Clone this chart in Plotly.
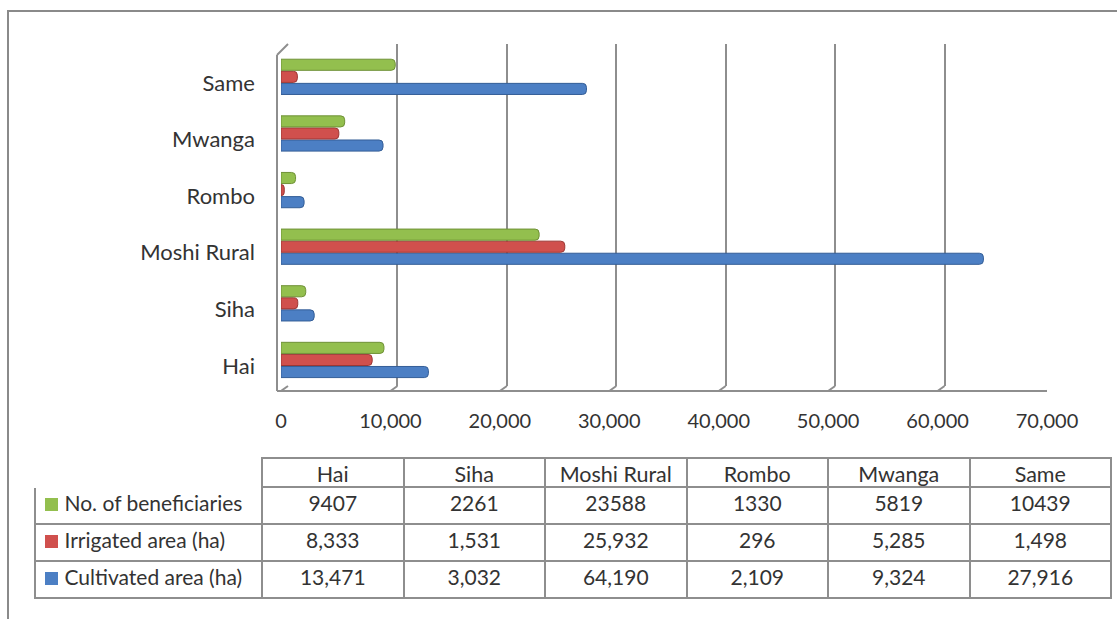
import plotly.graph_objects as go

# ---------------- data ----------------
districts = ["Hai", "Siha", "Moshi Rural", "Rombo", "Mwanga", "Same"]
beneficiaries = [9407, 2261, 23588, 1330, 5819, 10439]
irrigated = [8333, 1531, 25932, 296, 5285, 1498]
cultivated = [13471, 3032, 64190, 2109, 9324, 27916]
series_names = ["No. of beneficiaries", "Irrigated area (ha)", "Cultivated area (ha)"]
x_ticks = [0, 10000, 20000, 30000, 40000, 50000, 60000, 70000]

# ---------------- style ----------------
W, H = 1117, 619
FONT = "Lato"
TXT = "#333333"
GRID = "#8e8e8e"
COL = {"ben": "#93BF4E", "irr": "#D0504D", "cul": "#4C7FC4"}
EDGE = {"ben": "#6F9136", "irr": "#9C3734", "cul": "#345E97"}


def fx(p):
    return p / W


def fy(p):
    return 1 - p / H


FRONT_X = (281, 1047)   # pixel span of 0..70000 at front of floor
BACK_X = (288, 1054)    # pixel span at back wall
PLOT_Y = (44, 386)      # pixel span of back wall (top, bottom)
FLOOR_Y = 391
TABLE_X = (35, 1111)
TABLE_TOP = 458
HEADER_H = 29
ROW_H = 37
FIRST_W = 227

fig = go.Figure()

# back wall gridlines subplot (drawn first, below bars)
fig.add_trace(go.Scatter(x=[0], y=[0], mode="markers", marker=dict(opacity=0),
                         hoverinfo="skip", showlegend=False, xaxis="x", yaxis="y"))

# bars (first trace is drawn at bottom of each group)
fig.add_trace(go.Bar(y=districts, x=cultivated, name=series_names[2], orientation="h",
                     marker=dict(color=COL["cul"], line=dict(color=EDGE["cul"], width=1), cornerradius=4),
                     xaxis="x2", yaxis="y2"))
fig.add_trace(go.Bar(y=districts, x=irrigated, name=series_names[1], orientation="h",
                     marker=dict(color=COL["irr"], line=dict(color=EDGE["irr"], width=1), cornerradius=4),
                     xaxis="x2", yaxis="y2"))
fig.add_trace(go.Bar(y=districts, x=beneficiaries, name=series_names[0], orientation="h",
                     marker=dict(color=COL["ben"], line=dict(color=EDGE["ben"], width=1), cornerradius=4),
                     xaxis="x2", yaxis="y2"))

# data table (legend keys drawn as small squares over the first column)
pad = "\u00a0" * 4
legend_col = [pad + s for s in series_names]
cols = [legend_col]
for i in range(len(districts)):
    cols.append([f"{beneficiaries[i]}", f"{irrigated[i]:,}", f"{cultivated[i]:,}"])

other_w = (TABLE_X[1] - TABLE_X[0] - FIRST_W) / len(districts)
fig.add_trace(go.Table(
    domain=dict(x=[fx(TABLE_X[0]), fx(TABLE_X[1])], y=[0, fy(TABLE_TOP)]),
    columnwidth=[FIRST_W] + [other_w] * len(districts),
    header=dict(values=[""] + districts, height=HEADER_H,
                fill=dict(color="white"),
                line=dict(color=["white"] + [GRID] * len(districts), width=2),
                align="center", font=dict(family=FONT, size=21.5, color=TXT)),
    cells=dict(values=cols, height=ROW_H,
               fill=dict(color="white"),
               line=dict(color=GRID, width=2),
               align=["left"] + ["center"] * len(districts),
               font=dict(family=FONT, size=21, color=TXT)),
))

fig.update_layout(
    width=W, height=H,
    margin=dict(l=0, r=0, t=0, b=0, autoexpand=False),
    paper_bgcolor="white", plot_bgcolor="rgba(0,0,0,0)",
    showlegend=False,
    barmode="group", bargap=0.36, bargroupgap=0.08,
    font=dict(family=FONT, color=TXT),
    xaxis=dict(domain=[fx(BACK_X[0]), fx(BACK_X[1])], range=[0, 70000],
               tickvals=x_ticks, showticklabels=False, showgrid=True, automargin=False,
               gridcolor=GRID, gridwidth=2, zeroline=False, showline=False,
               anchor="y"),
    yaxis=dict(domain=[fy(PLOT_Y[1]), fy(PLOT_Y[0])], range=[-1, 1], automargin=False,
               showticklabels=False, showgrid=False, zeroline=False, anchor="x"),
    xaxis2=dict(domain=[fx(FRONT_X[0]), fx(FRONT_X[1])], range=[0, 70000], automargin=False,
                tickvals=x_ticks, tickformat=",", showgrid=False, zeroline=False,
                showline=False, ticks="", ticklabelstandoff=21,
                tickfont=dict(family=FONT, size=20, color=TXT), anchor="y2"),
    yaxis2=dict(domain=[fy(PLOT_Y[1]), fy(PLOT_Y[0])], range=[-0.46, 5.58], automargin=False,
                type="category", showgrid=False, zeroline=False, showline=False,
                ticks="", ticklabelstandoff=25, ticklabelshift=6,
                tickfont=dict(family=FONT, size=22, color=TXT), anchor="x2"),
)

shapes = []
# outer frame
shapes.append(dict(type="rect", xref="paper", yref="paper", x0=fx(8), x1=fx(1140),
                   y0=fy(11), y1=fy(660), line=dict(color="#8a8a8a", width=2)))
# floor front edge
shapes.append(dict(type="line", xref="paper", yref="paper", x0=fx(277), x1=fx(FRONT_X[1]),
                   y0=fy(FLOOR_Y), y1=fy(FLOOR_Y), line=dict(color=GRID, width=2)))
# left wall front edge and top bevel
shapes.append(dict(type="line", xref="paper", yref="paper", x0=fx(277), x1=fx(277),
                   y0=fy(55), y1=fy(FLOOR_Y), line=dict(color=GRID, width=2)))
shapes.append(dict(type="line", xref="paper", yref="paper", x0=fx(277), x1=fx(BACK_X[0]),
                   y0=fy(55), y1=fy(PLOT_Y[0]), line=dict(color=GRID, width=2)))
# floor diagonals joining front tick positions to the back wall
for v in x_ticks:
    shapes.append(dict(type="line", xref="x2", xsizemode="pixel", xanchor=v, x0=0, x1=BACK_X[0] - FRONT_X[0],
                       yref="paper", ysizemode="pixel", yanchor=fy(FLOOR_Y), y0=0, y1=FLOOR_Y - PLOT_Y[1],
                       line=dict(color=GRID, width=2)))
# legend keys in the table's first column
for r, key in enumerate(["ben", "irr", "cul"]):
    cy = TABLE_TOP + HEADER_H + ROW_H * r + ROW_H / 2 - 1
    shapes.append(dict(type="rect", xref="paper", yref="paper", x0=fx(45), x1=fx(58),
                       y0=fy(cy + 6.5), y1=fy(cy - 6.5), fillcolor=COL[key], line=dict(width=0)))
fig.update_layout(shapes=shapes)

fig.write_html("out.html", config={"displayModeBar": False},
               post_script="document.body.style.margin='0';"
                           "document.documentElement.style.overflow='hidden';"
                           "document.body.style.overflow='hidden';")
